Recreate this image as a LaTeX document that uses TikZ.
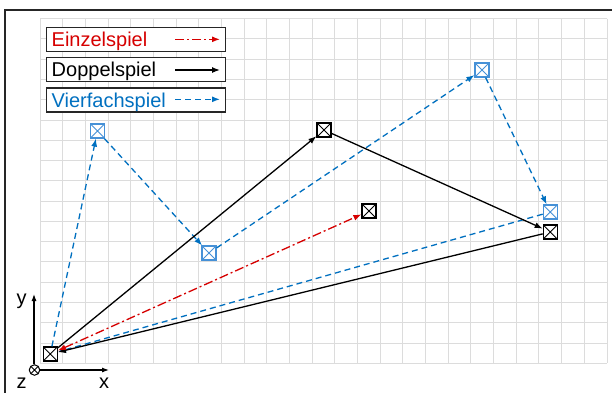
\documentclass[tikz,border=0pt]{standalone}
\usepackage{fontspec}
\setmainfont{Liberation Sans}
\usetikzlibrary{arrows.meta}
\definecolor{myred}{RGB}{214,0,0}
\definecolor{lblue}{RGB}{0,112,192}
\definecolor{bblue}{RGB}{70,145,215}
\definecolor{gridc}{RGB}{220,220,220}
\begin{document}
\begin{tikzpicture}[x=1pt,y=-1pt,
  xbox/.style={draw=#1, line width=1.2pt, minimum size=14pt, inner sep=0pt, fill=white,
    path picture={\draw[#1, line width=0.9pt]
      (path picture bounding box.north west) -- (path picture bounding box.south east)
      (path picture bounding box.north east) -- (path picture bounding box.south west);}},
  xbox/.default=black,
  tip/.style={-{Latex[length=8pt,width=6pt]}},
  btip/.style={{Latex[length=8pt,width=6pt]}-{Latex[length=8pt,width=6pt]}},
  conn/.style={line width=1.3pt},
  redline/.style={conn, myred, dash pattern=on 9pt off 3pt on 2pt off 3pt},
  blackline/.style={conn, black},
  blueline/.style={conn, lblue, dash pattern=on 6pt off 4pt},
  legbox/.style={draw=black!85, line width=1.2pt, fill=white, minimum width=179pt, minimum height=24pt, inner sep=0pt},
  legtext/.style={anchor=base west, inner sep=0pt, font=\fontsize{20}{22}\selectfont},
  axlabel/.style={anchor=base, inner sep=0pt, font=\fontsize{20}{22}\selectfont},
  gridline/.style={gridc, line width=1pt}
]
\useasboundingbox (0,0) rectangle (612,392);
\fill[white] (0,0) rectangle (612,392);
\begin{scope}
\clip (0,0) rectangle (612,392);
% grid
\foreach \i in {0,...,25} \draw[gridline] ({40+22.68*\i},18.7) -- ({40+22.68*\i},363.3);
\foreach \j in {0,...,17} \draw[gridline] (40,{18.7+20.27*\j}) -- (607,{18.7+20.27*\j});
% frame
\draw[line width=1.8pt, black!85] (5,400) -- (5,10) -- (620,10);
\end{scope}

% legend
\node[legbox] (lb1) at (136.2,39.7) {};
\node[legbox] (lb2) at (136.2,69.5) {};
\node[legbox] (lb3) at (136.2,100) {};
\node[legtext, myred] (lt1) at (51.5,46.6) {Einzelspiel};
\node[legtext, black] (lt2) at (51.5,76.6) {Doppelspiel};
\node[legtext, lblue] (lt3) at (51.5,107) {Vierfachspiel};
\coordinate (la1) at (175,39.3); \coordinate (lb1e) at (220,39.3);
\coordinate (la2) at (175,70); \coordinate (lb2e) at (220,70);
\coordinate (la3) at (175,99.3); \coordinate (lb3e) at (220,99.3);
\draw[redline, tip] (la1) -- (lb1e);
\draw[blackline, tip] (la2) -- (lb2e);
\draw[blueline, tip] (la3) -- (lb3e);

% axes
\node[draw, circle, line width=1pt, minimum size=10.5pt, inner sep=0pt,
  path picture={\draw[line width=0.8pt] (path picture bounding box.north west) -- (path picture bounding box.south east)
  (path picture bounding box.north east) -- (path picture bounding box.south west);}] (o) at (34.5,370) {};
\coordinate (ytop) at (34,294);
\coordinate (xend) at (109,370);
\draw[line width=1.1pt, -{Latex[length=7pt,width=5pt]}] (o.north) ++(-0.5,0) coordinate (ybase) -- (ytop);
\draw[line width=1.1pt, -{Latex[length=7pt,width=5pt]}] (o.east) -- (xend);
\node[axlabel] (ly) at (21.5,304) {y};
\node[axlabel] (lz) at (21.5,388) {z};
\node[axlabel] (lx) at (104,388) {x};

% boxes
\node[xbox] (s) at (50.3,354) {};
\node[xbox] (r) at (369,211) {};
\node[xbox] (d1) at (324,130) {};
\node[xbox] (d2) at (550.3,232) {};
\node[xbox=bblue] (v1) at (97.5,131) {};
\node[xbox=bblue] (v2) at (209,253) {};
\node[xbox=bblue] (v3) at (482,70) {};
\node[xbox=bblue] (v4) at (550.3,212) {};

% connectors
\draw[blueline, tip] (s) -- (v1);
\draw[blueline, tip] (v1) -- (v2);
\draw[blueline, tip] (v2) -- (v3);
\draw[blueline, tip] (v3) -- (v4);
\draw[blueline, tip] (v4) -- (s);
\draw[blackline, tip] (s) -- (d1);
\draw[blackline, tip] (d1) -- (d2);
\draw[blackline, tip] (d2) -- (s);
\draw[redline, btip] (s) -- (r);
\end{tikzpicture}
\end{document}
